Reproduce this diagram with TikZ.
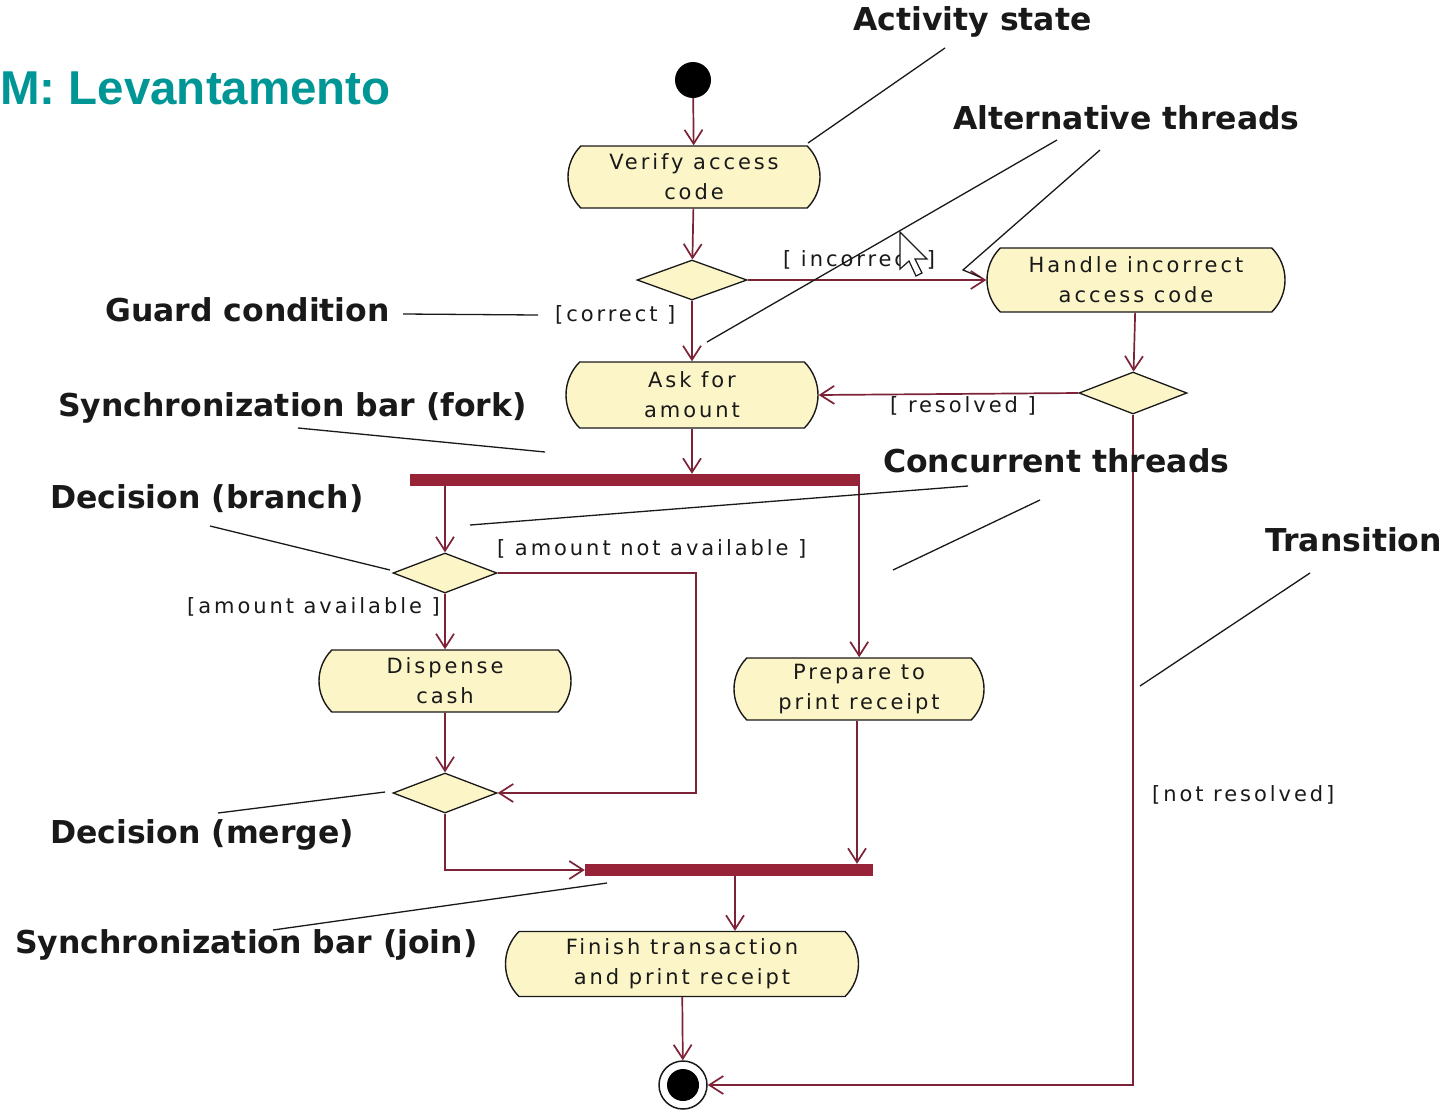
\documentclass[tikz,border=0pt]{standalone}
\usepackage{fontspec}
\setmainfont{DejaVu Sans}
\newfontfamily\actfont[LetterSpace=14]{DejaVu Sans}
\newfontfamily\notefont{DejaVu Sans}
\newfontfamily\titlefont{Liberation Sans}
\usetikzlibrary{shapes.misc,shapes.geometric,arrows.meta,calc}

\definecolor{actfill}{RGB}{252,245,200}
\definecolor{flowred}{RGB}{125,35,55}
\definecolor{barred}{RGB}{150,35,55}
\definecolor{titleteal}{RGB}{0,150,150}
\definecolor{ink}{RGB}{25,25,25}

\begin{document}
\begin{tikzpicture}[x=1pt,y=-1pt,
  activity/.style={rounded rectangle, rounded rectangle arc length=90,
    draw=ink, line width=1.4, fill=actfill, inner sep=0, align=center,
    font=\actfont\fontsize{21}{30}\selectfont, text=ink},
  choice/.style={diamond, draw=ink, line width=1.3, fill=actfill, inner sep=0,
    minimum width=108, minimum height=40},
  syncbar/.style={rectangle, fill=barred, inner sep=0, minimum height=12},
  flow/.style={draw=flowred, line width=1.7, -{Straight Barb[length=14pt,width=18pt]}},
  guard/.style={font=\actfont\fontsize{21}{30}\selectfont, text=ink, inner sep=0, anchor=west},
  note/.style={font=\notefont\bfseries\fontsize{31.5}{36}\selectfont, text=ink, inner sep=0, anchor=west},
  pointer/.style={draw=ink, line width=1.3},
]
\useasboundingbox[fill=white] (0,0) rectangle (1447,1111);

% heading
\node[anchor=base west, inner sep=0, text=titleteal,
      font=\titlefont\bfseries\fontsize{47.5}{50}\selectfont] (title) at (0,104) {M: Levantamento};

% initial and final states
\node[circle, fill=black, minimum size=36, inner sep=0] (start) at (693,80) {};
\node[circle, draw=ink, line width=1.5, fill=white, minimum size=48, inner sep=0,
      path picture={\fill[black] (path picture bounding box.center) circle (16);}] (final) at (683,1085) {};

% activity states
\node[activity, minimum width=252, minimum height=62] (verify) at (694,177) {Verify access\\code};
\node[activity, minimum width=298, minimum height=64] (handle) at (1136,280) {Handle incorrect\\access code};
\node[activity, minimum width=252, minimum height=66] (ask) at (692,395) {Ask for\\amount};
\node[activity, minimum width=252, minimum height=62] (dispense) at (445,681) {Dispense\\cash};
\node[activity, minimum width=250, minimum height=62] (prepare) at (859,689) {Prepare to\\print receipt};
\node[activity, minimum width=353, minimum height=65] (finish) at (682,964) {Finish transaction\\and print receipt};

% decisions
\node[choice, minimum width=110] (dec1) at (692,280) {};
\node[choice, minimum height=42] (dec2) at (1133,393) {};
\node[choice, minimum width=104] (dec3) at (445,573) {};
\node[choice, minimum width=104] (dec4) at (445,793) {};

% synchronization bars
\node[syncbar, minimum width=450] (fork) at (635,480) {};
\node[syncbar, minimum width=288] (join) at (729,870) {};

% transitions
\draw[flow] (start) -- (verify);
\draw[flow] (verify) -- (dec1);
\draw[flow] (dec1) -- (ask);
\draw[flow] (dec1.east) -- (handle.west);
\draw[flow] (handle) -- (dec2);
\draw[flow] (dec2.west) -- (ask.east);
\draw[flow] (dec2.south) |- (final.east);
\draw[flow] (ask.south) -- (ask.south |- fork.north);
\draw[flow] (fork.south -| dec3.north) -- (dec3.north);
\draw[flow] ([xshift=-1]fork.south east) -- ([xshift=-1]fork.south east |- prepare.north);
\draw[flow] (dec3) -- (dispense);
\draw[flow] (dec3.east) -| (696,793) -- (dec4.east);
\draw[flow] (dispense) -- (dec4);
\draw[flow] (dec4.south) |- (join.west);
\draw[flow] ([xshift=-2]prepare.south) -- ([xshift=-2]prepare.south |- join.north);
\draw[flow] ([xshift=6]join.south) -- ([xshift=6]join.south |- finish.north);
\draw[flow] (finish) -- (final);

% guard conditions
\node[guard] (g-incorrect) at (783,260) {[ incorrect ]};
\node[guard] (g-correct) at (555,315) {[correct ]};
\node[guard] (g-resolved) at (890,406) {[ resolved ]};
\node[guard] (g-notavail) at (497,549) {[ amount not available ]};
\node[guard] (g-avail) at (187,607) {[amount available ]};
\node[guard] (g-notres) at (1152,795) {[not resolved]};

% mouse pointer over the guard text
\draw[draw=ink, line width=1.2, fill=white, line join=miter]
  (900,232) -- ++(0,37) -- ++(9,-8) -- ++(7,15) -- ++(6,-3) -- ++(-7,-14) -- ++(12,0) -- cycle;

% explanatory notes
\node[note] (n-activity) at (853,22) {Activity state};
\node[note] (n-alt) at (953,118) {Alternative threads};
\node[note] (n-guard) at (105,310) {Guard condition};
\node[note] (n-fork) at (58,408) {Synchronization bar (fork)};
\node[note] (n-branch) at (50,499) {Decision (branch)};
\node[note] (n-conc) at (883,461) {Concurrent threads};
\node[note] (n-trans) at (1265,540) {Transition};
\node[note] (n-merge) at (50,835) {Decision (merge)};
\node[note] (n-join) at (15,945) {Synchronization bar (join)};

% note pointers
\draw[pointer] (945,48) -- (808,143);
\draw[pointer] (1057,140) -- (707,342);
\draw[pointer] (1100,150) -- (963,270) -- (980,277);
\draw[pointer] (403,314) -- (538,315);
\draw[pointer] (298,428) -- (545,452);
\draw[pointer] (210,526) -- (390,570);
\draw[pointer] (968,486) -- (470,525);
\draw[pointer] (1040,500) -- (893,570);
\draw[pointer] (1310,573) -- (1140,686);
\draw[pointer] (218,813) -- (385,792);
\draw[pointer] (273,930) -- (607,883);
\end{tikzpicture}
\end{document}
